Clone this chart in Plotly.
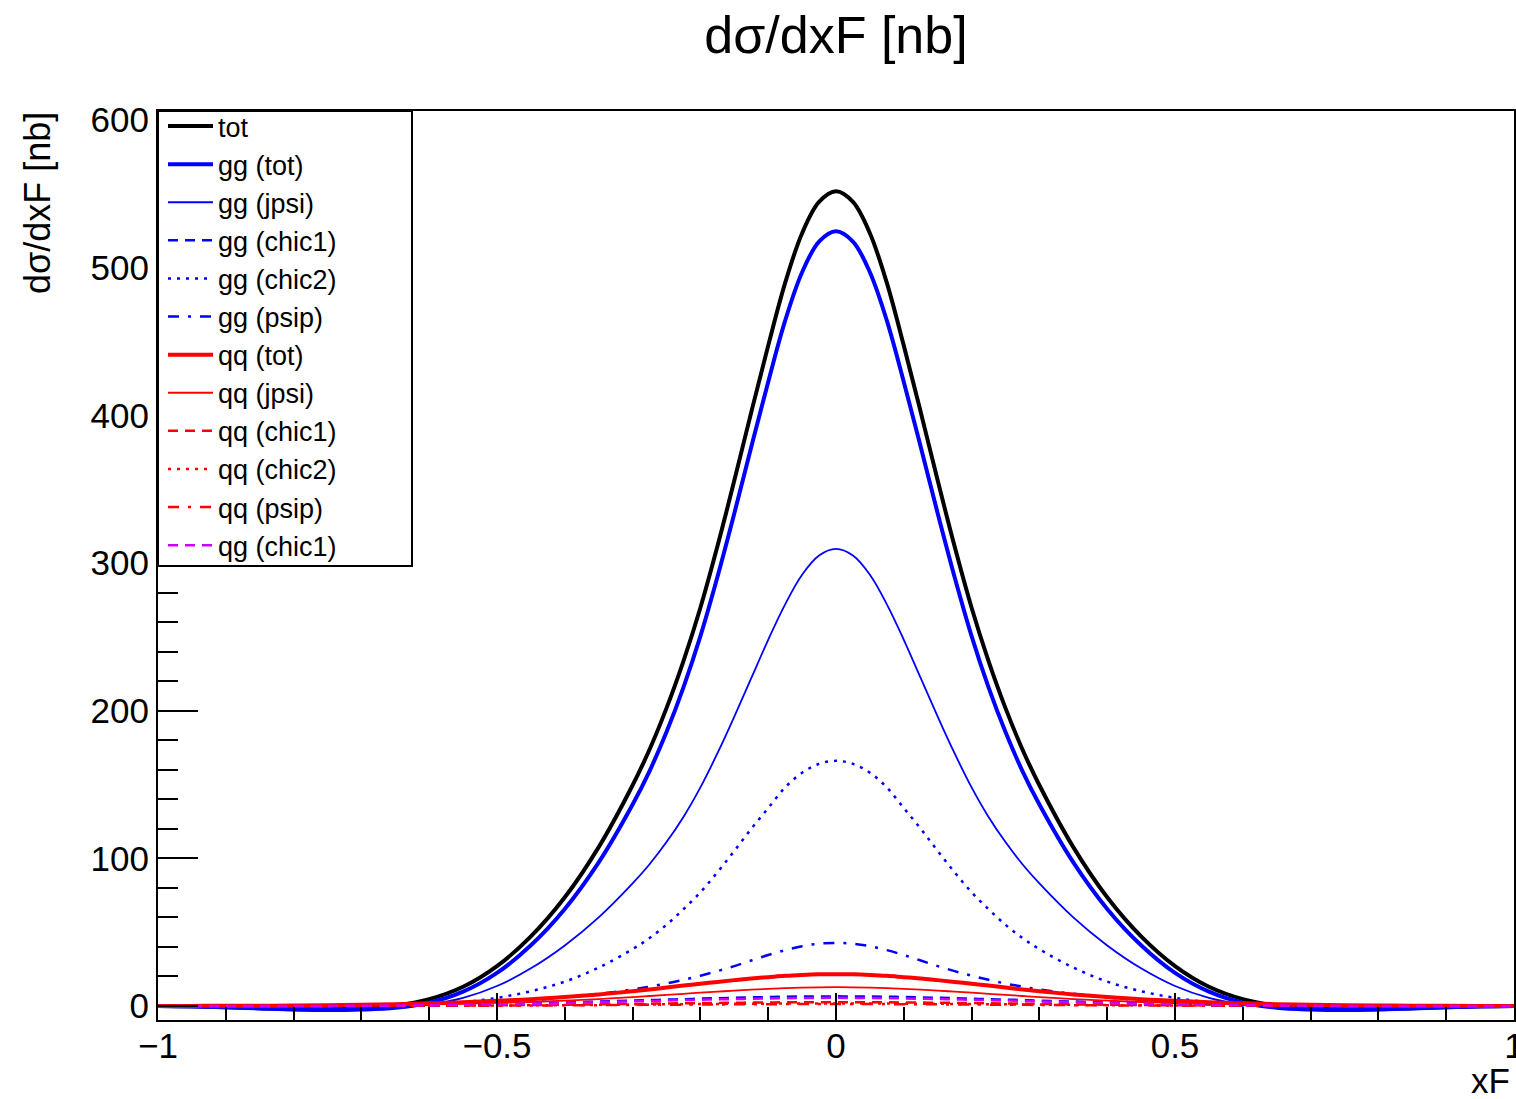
import plotly.graph_objects as go

# xF grid (finer in the core)
xF = [-1.0, -0.95, -0.9, -0.85, -0.8, -0.75, -0.7, -0.65, -0.6, -0.55, -0.5, -0.45, -0.4, -0.35,
      -0.3, -0.275, -0.25, -0.225, -0.2, -0.175, -0.15, -0.125, -0.1, -0.075, -0.05, -0.025,
      0.0,
      0.025, 0.05, 0.075, 0.1, 0.125, 0.15, 0.175, 0.2, 0.225, 0.25, 0.275, 0.3,
      0.35, 0.4, 0.45, 0.5, 0.55, 0.6, 0.65, 0.7, 0.75, 0.8, 0.85, 0.9, 0.95, 1.0]

tot = [0, -0.25, -0.8, -1.5, -2.15, -2.25, -1.5, 0.25, 4.6, 13, 27, 47.1, 73.6, 107.6,
       149.5, 173.7, 201.7, 233.6, 269.7, 311.1, 355.8, 402.1, 447.2, 489.7, 523.3, 544.5,
       551.7,
       544.5, 523.3, 489.7, 447.2, 402.1, 355.8, 311.1, 269.7, 233.6, 201.7, 173.7, 149.5,
       107.6, 73.6, 47.1, 27, 13, 4.6, 0.25, -1.5, -2.25, -2.15, -1.5, -0.8, -0.25, 0]
gg_tot = [0, -0.3, -0.9, -1.7, -2.45, -2.8, -2.45, -1.25, 2.3, 9.7, 22.4, 41.1, 65.7, 97.2,
          136.4, 159.1, 185.5, 215.8, 250.5, 290.4, 333.6, 378.6, 422.6, 464.1, 496.9, 517.7,
          524.7,
          517.7, 496.9, 464.1, 422.6, 378.6, 333.6, 290.4, 250.5, 215.8, 185.5, 159.1, 136.4,
          97.2, 65.7, 41.1, 22.4, 9.7, 2.3, -1.25, -2.45, -2.8, -2.45, -1.7, -0.9, -0.3, 0]
gg_jpsi = [0, -0.2, -0.6, -1.1, -1.6, -1.8, -1.6, -1.0, 1.0, 5.5, 13.5, 25.5, 41, 60,
           83, 96, 111, 128, 148, 171, 196, 222, 248, 272, 292, 305,
           309.5,
           305, 292, 272, 248, 222, 196, 171, 148, 128, 111, 96, 83,
           60, 41, 25.5, 13.5, 5.5, 1.0, -1.0, -1.6, -1.8, -1.6, -1.1, -0.6, -0.2, 0]
gg_chic1 = [0, 0, 0, 0, -0.05, -0.05, -0.05, 0.05, 0.3, 0.7, 1.2, 1.75, 2.35, 3.0,
            3.65, 3.95, 4.3, 4.6, 4.95, 5.25, 5.55, 5.8, 6.05, 6.25, 6.4, 6.47,
            6.5,
            6.47, 6.4, 6.25, 6.05, 5.8, 5.55, 5.25, 4.95, 4.6, 4.3, 3.95, 3.65,
            3.0, 2.35, 1.75, 1.2, 0.7, 0.3, 0.05, -0.05, -0.05, -0.05, 0, 0, 0, 0]
gg_chic2 = [0, -0.1, -0.2, -0.4, -0.5, -0.6, -0.5, -0.2, 0.7, 2.5, 5.5, 10, 16.5, 26,
            38.5, 46, 55, 65.5, 77, 90.5, 105, 120, 134, 148, 158, 164,
            166,
            164, 158, 148, 134, 120, 105, 90.5, 77, 65.5, 55, 46, 38.5,
            26, 16.5, 10, 5.5, 2.5, 0.7, -0.2, -0.5, -0.6, -0.5, -0.4, -0.2, -0.1, 0]
gg_psip = [0, 0, -0.1, -0.2, -0.3, -0.35, -0.3, -0.1, 0.3, 1.0, 2.2, 3.8, 5.8, 8.2,
           11.2, 13.1, 15.2, 17.7, 20.5, 23.6, 27, 30.8, 34.5, 37.8, 40.5, 42.2,
           42.7,
           42.2, 40.5, 37.8, 34.5, 30.8, 27, 23.6, 20.5, 17.7, 15.2, 13.1, 11.2,
           8.2, 5.8, 3.8, 2.2, 1.0, 0.3, -0.1, -0.3, -0.35, -0.3, -0.2, -0.1, 0, 0]
qq_tot = [0, 0.05, 0.1, 0.2, 0.3, 0.5, 0.8, 1.2, 1.8, 2.5, 3.5, 4.5, 6, 7.8,
          10, 11.2, 12.5, 13.8, 15, 16.3, 17.5, 18.6, 19.5, 20.4, 21, 21.4,
          21.5,
          21.4, 21, 20.4, 19.5, 18.6, 17.5, 16.3, 15, 13.8, 12.5, 11.2, 10,
          7.8, 6, 4.5, 3.5, 2.5, 1.8, 1.2, 0.8, 0.5, 0.3, 0.2, 0.1, 0.05, 0]
qq_jpsi = [0, 0, 0.05, 0.1, 0.2, 0.3, 0.5, 0.7, 1.1, 1.5, 2.1, 2.7, 3.6, 4.7,
           6.0, 6.75, 7.5, 8.25, 9.0, 9.7, 10.4, 11.05, 11.6, 12.05, 12.4, 12.63,
           12.7,
           12.63, 12.4, 12.05, 11.6, 11.05, 10.4, 9.7, 9.0, 8.25, 7.5, 6.75, 6.0,
           4.7, 3.6, 2.7, 2.1, 1.5, 1.1, 0.7, 0.5, 0.3, 0.2, 0.1, 0.05, 0, 0]
qq_chic1 = [0, 0, 0.01, 0.02, 0.03, 0.06, 0.1, 0.17, 0.25, 0.35, 0.5, 0.65, 0.85, 1.1,
            1.4, 1.55, 1.7, 1.83, 1.95, 2.08, 2.2, 2.3, 2.4, 2.48, 2.55, 2.59,
            2.6,
            2.59, 2.55, 2.48, 2.4, 2.3, 2.2, 2.08, 1.95, 1.83, 1.7, 1.55, 1.4,
            1.1, 0.85, 0.65, 0.5, 0.35, 0.25, 0.17, 0.1, 0.06, 0.03, 0.02, 0.01, 0, 0]
qq_chic2 = [0, 0, 0, 0.01, 0.02, 0.04, 0.07, 0.11, 0.17, 0.24, 0.33, 0.44, 0.58, 0.75,
            0.93, 1.02, 1.12, 1.21, 1.3, 1.38, 1.45, 1.52, 1.58, 1.63, 1.67, 1.69,
            1.7,
            1.69, 1.67, 1.63, 1.58, 1.52, 1.45, 1.38, 1.3, 1.21, 1.12, 1.02, 0.93,
            0.75, 0.58, 0.44, 0.33, 0.24, 0.17, 0.11, 0.07, 0.04, 0.02, 0.01, 0, 0, 0]
qq_psip = [0, 0, 0, 0.01, 0.02, 0.03, 0.06, 0.09, 0.13, 0.18, 0.25, 0.33, 0.43, 0.56,
           0.7, 0.77, 0.84, 0.91, 0.98, 1.04, 1.1, 1.15, 1.2, 1.25, 1.28, 1.3,
           1.3,
           1.3, 1.28, 1.25, 1.2, 1.15, 1.1, 1.04, 0.98, 0.91, 0.84, 0.77, 0.7,
           0.56, 0.43, 0.33, 0.25, 0.18, 0.13, 0.09, 0.06, 0.03, 0.02, 0.01, 0, 0, 0]
qg_chic1 = [0, 0, 0, 0, 0, 0.05, 0.15, 0.3, 0.5, 0.75, 1.1, 1.5, 2.0, 2.6,
            3.1, 3.4, 3.7, 3.95, 4.2, 4.45, 4.7, 4.9, 5.1, 5.27, 5.4, 5.47,
            5.5,
            5.47, 5.4, 5.27, 5.1, 4.9, 4.7, 4.45, 4.2, 3.95, 3.7, 3.4, 3.1,
            2.6, 2.0, 1.5, 1.1, 0.75, 0.5, 0.3, 0.15, 0.05, 0, 0, 0, 0, 0]

series_names = ["tot", "gg (tot)", "gg (jpsi)", "gg (chic1)", "gg (chic2)", "gg (psip)",
                "qq (tot)", "qq (jpsi)", "qq (chic1)", "qq (chic2)", "qq (psip)", "qg (chic1)"]
series_values = [tot, gg_tot, gg_jpsi, gg_chic1, gg_chic2, gg_psip,
                 qq_tot, qq_jpsi, qq_chic1, qq_chic2, qq_psip, qg_chic1]
for v in series_values:
    assert len(v) == len(xF), len(v)

x_ticks = [-1, -0.5, 0, 0.5, 1]
x_tick_text = ["\u22121", "\u22120.5", "0", "0.5", "1"]
y_ticks = [0, 100, 200, 300, 400, 500, 600]

BLUE = "#0000ff"
RED = "#ff0000"
VIOLET = "#cc00ff"
DASH = "10px,7px"
DOT = "3px,6px"
DASHDOT = "11px,9px,3px,9px"
styles = [
    ("#000000", 4, "solid"),
    (BLUE, 4, "solid"),
    (BLUE, 1.8, "solid"),
    (BLUE, 2.5, DASH),
    (BLUE, 2.5, DOT),
    (BLUE, 2.5, DASHDOT),
    (RED, 4, "solid"),
    (RED, 1.8, "solid"),
    (RED, 2.5, DASH),
    (RED, 2.5, DOT),
    (RED, 2.5, DASHDOT),
    (VIOLET, 2.5, DASH),
]

FONT = "Liberation Sans, Arial, Helvetica, sans-serif"

fig = go.Figure()
for name, vals, (col, w, dash) in zip(series_names, series_values, styles):
    fig.add_trace(go.Scatter(x=xF, y=vals, mode="lines", name=name,
                             line=dict(color=col, width=w, dash=dash, shape="spline", smoothing=1.0)))

fig.update_layout(
    width=1516, height=1099,
    margin=dict(l=158, r=2, t=111, b=79, autoexpand=False),
    paper_bgcolor="white", plot_bgcolor="white",
    font=dict(family=FONT, color="black"),
    title=dict(text="dσ/dxF [nb]", x=0.5, xref="paper", xanchor="center",
               y=1 - 35 / 1099, yref="container", yanchor="middle",
               font=dict(size=52, family=FONT)),
    showlegend=True,
    legend=dict(x=5 / 1356, y=1 + 9 / 909, xanchor="left", yanchor="top",
                bgcolor="rgba(0,0,0,0)", borderwidth=0,
                font=dict(size=27, family=FONT), itemwidth=45,
                tracegroupgap=0),
    xaxis=dict(range=[-1, 1], tickmode="array", tickvals=x_ticks, ticktext=x_tick_text,
               ticks="inside", ticklen=27, tickwidth=2, tickcolor="black",
               minor=dict(ticks="inside", ticklen=13, dtick=0.1, tick0=0, tickwidth=2, tickcolor="black", showgrid=False),
               showline=True, linecolor="black", linewidth=2, mirror=True,
               showgrid=False, zeroline=False, ticklabeloverflow="allow", automargin=False,
               ticklabelstandoff=-6,
               tickfont=dict(size=35, family=FONT)),
    yaxis=dict(range=[-9.5, 606.1], tickmode="array", tickvals=y_ticks,
               ticks="inside", ticklen=40, tickwidth=2, tickcolor="black",
               minor=dict(ticks="inside", ticklen=20, dtick=20, tick0=0, tickwidth=2, tickcolor="black", showgrid=False),
               showline=True, linecolor="black", linewidth=2, mirror=True,
               showgrid=False, zeroline=False, ticklabeloverflow="allow", automargin=False,
               tickfont=dict(size=35, family=FONT)),
)

# ROOT-style legend box drawn over the frame
fig.add_shape(type="rect", xref="paper", yref="paper",
              x0=0, x1=(412 - 158) / 1356, y0=(1020 - 566) / 909, y1=1.0,
              fillcolor="white", line=dict(color="black", width=2), layer="above")

fig.add_annotation(text="dσ/dxF [nb]", xref="paper", yref="paper",
                   x=(37 - 158) / 1356, y=(1020 - 110) / 909, xanchor="center", yanchor="top",
                   textangle=-90, showarrow=False, font=dict(size=36, family=FONT))
fig.add_annotation(text="xF", xref="paper", yref="paper",
                   x=(1512 - 158) / 1356, y=(1020 - 1080) / 909, xanchor="right", yanchor="middle",
                   showarrow=False, font=dict(size=35, family=FONT))

fig.write_html("out.html")
